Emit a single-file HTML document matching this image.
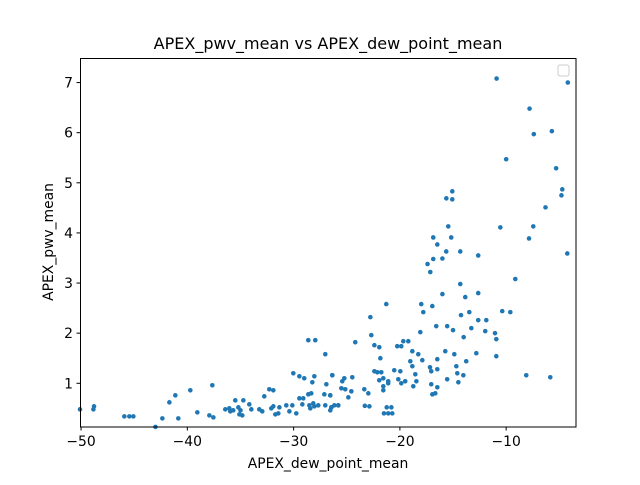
<!DOCTYPE html>
<html><head><meta charset="utf-8"><style>
body{margin:0;background:#fff;}
svg text{font-family:"DejaVu Sans","Liberation Sans",sans-serif;fill:#000;}
</style></head><body>
<svg id="chart" width="640" height="480" xmlns="http://www.w3.org/2000/svg">
<rect width="640" height="480" fill="#fff"/>
<text x="328" y="49" font-size="16" text-anchor="middle">APEX_pwv_mean vs APEX_dew_point_mean</text>
<g id="marks"></g>
<g id="axes"></g>
<rect x="80.5" y="58.5" width="495.5" height="368.5" fill="none" stroke="#000" stroke-width="1"/>
<rect x="558" y="65" width="11" height="11" rx="2" fill="#fff" stroke="#ccc" stroke-width="1"/>
<text x="328" y="468" font-size="13.9" text-anchor="middle">APEX_dew_point_mean</text>
<text transform="translate(53,242) rotate(-90)" font-size="13.9" text-anchor="middle">APEX_pwv_mean</text>
</svg>
<script>
const xVals=[-10.9,-4.2,-7.8,-7.4,-5.7,-10.0,-5.3,-15.07,-15.63,-15.07,-4.72,-4.8,-6.3,-15.45,-10.55,-7.45,-7.85,-16.86,-15.17,-16.48,-15.64,-14.32,-12.63,-4.25,-16.86,-16.0,-17.4,-17.14,-9.14,-14.32,-16.0,-12.63,-13.85,-21.28,-17.99,-16.95,-17.8,-13.47,-10.37,-9.61,-14.25,-22.78,-12.63,-11.87,-16.58,-15.55,-13.28,-15.0,-11.97,-18.08,-11.05,-14.0,-10.93,-22.69,-24.2,-22.4,-21.94,-20.25,-19.87,-19.68,-19.21,-21.84,-18.83,-18.27,-15.73,-14.88,-12.81,-10.93,-19.02,-17.89,-18.83,-16.48,-13.76,-17.17,-14.69,-17.05,-16.48,-18.55,-14.6,-14.03,-15.55,-14.5,-8.11,-5.85,-17.05,-16.48,-16.95,-16.67,-18.45,-18.74,-19.5,-19.87,-20.15,-19.96,-20.53,-21.1,-21.1,-21.56,-21.56,-21.94,-21.56,-21.75,-22.12,-22.4,-22.87,-21.1,-20.72,-20.8,-22.97,-23.35,-24.48,-24.57,-24.85,-25.14,-25.51,-25.23,-25.42,-26.36,-25.8,-26.45,-26.55,
-50.1,-48.84,-48.78,-45.93,-45.46,-45.08,-43.0,-42.35,-41.69,-41.13,-40.85,-39.72,-39.06,-37.93,-37.55,-37.65,-36.43,-36.05,-35.96,-35.68,-35.49,-35.2,-35.0,-35.1,-34.83,-34.73,-34.17,-33.98,-33.23,-32.95,-32.76,-32.29,-31.91,-32.1,-31.91,-31.72,-31.44,-31.34,-30.69,-30.4,-30.12,-30.03,-29.75,-29.46,-29.46,-29.09,-29.18,-29.0,-28.62,-27.96,-28.24,-28.05,-28.62,-28.34,-28.52,-28.43,-28.15,-28.05,-27.68,-27.02,-27.11,-26.55,-26.92,-26.36,-27.02,-26.55,-26.45,-25.8,-23.3,-21.24,-21.5,-26.17];
const yVals=[7.08,7.0,6.48,5.97,6.03,5.47,5.29,4.83,4.69,4.67,4.87,4.75,4.51,4.13,4.11,4.13,3.89,3.91,3.91,3.77,3.63,3.63,3.55,3.59,3.48,3.49,3.38,3.22,3.08,2.98,2.78,2.80,2.72,2.58,2.58,2.54,2.42,2.42,2.44,2.42,2.36,2.32,2.26,2.26,2.14,2.14,2.10,2.06,2.04,2.02,2.0,1.92,1.88,1.96,1.82,1.76,1.72,1.74,1.74,1.84,1.84,1.50,1.64,1.58,1.64,1.58,1.60,1.54,1.44,1.46,1.34,1.48,1.44,1.32,1.34,1.24,1.28,1.18,1.20,1.16,1.08,1.02,1.16,1.12,0.98,0.92,0.78,0.80,1.04,0.94,1.04,1.0,1.08,1.24,1.26,1.04,1.0,0.94,0.86,1.06,1.10,1.22,1.22,1.24,0.54,0.40,0.40,0.52,0.80,0.88,1.12,0.84,0.72,0.88,0.90,1.10,1.04,1.16,0.56,0.52,0.76,
0.48,0.48,0.54,0.34,0.34,0.34,0.13,0.30,0.62,0.76,0.30,0.86,0.42,0.36,0.32,0.96,0.48,0.50,0.44,0.46,0.66,0.52,0.46,0.38,0.36,0.66,0.58,0.48,0.48,0.44,0.74,0.88,0.86,0.50,0.54,0.38,0.40,0.52,0.56,0.44,0.56,1.20,0.40,1.14,0.70,0.70,0.58,1.10,1.86,1.86,1.02,1.14,0.78,0.80,0.56,0.50,0.60,0.54,0.56,1.58,0.78,0.76,0.98,1.16,0.56,0.46,0.52,0.56,0.55,0.52,0.40,0.56];
const xTicks=[-50,-40,-30,-20,-10];
const yTicks=[1,2,3,4,5,6,7];
const xMin=-50.1,xMax=-3.43,yMin=0.128,yMax=7.49;
const L=80,R=576,T=58,B=427;
function sx(v){return L+(v-xMin)/(xMax-xMin)*(R-L);}
function sy(v){return B-(v-yMin)/(yMax-yMin)*(B-T);}
const NS='http://www.w3.org/2000/svg';
const marks=document.getElementById('marks');
for(let i=0;i<xVals.length;i++){
  const c=document.createElementNS(NS,'circle');
  c.setAttribute('cx',sx(xVals[i]));c.setAttribute('cy',sy(yVals[i]));c.setAttribute('r',2.3);c.setAttribute('fill','#1f77b4');
  
  
  marks.appendChild(c);
}
const axes=document.getElementById('axes');
xTicks.forEach(t=>{
  const x=sx(t);
  const l=document.createElementNS(NS,'line');
  l.setAttribute('x1',x);l.setAttribute('x2',x);l.setAttribute('y1',427);l.setAttribute('y2',430.5);l.setAttribute('stroke','#000');
  
  
  axes.appendChild(l);
  const tx=document.createElementNS(NS,'text');
  tx.setAttribute('x',x);tx.setAttribute('y',446);tx.setAttribute('font-size','13.9');tx.setAttribute('text-anchor','middle');
  tx.textContent='\u2212'+Math.abs(t);
  
  
  axes.appendChild(tx);
});
yTicks.forEach(t=>{
  const y=sy(t);
  const l=document.createElementNS(NS,'line');
  l.setAttribute('x1',76.5);l.setAttribute('x2',80);l.setAttribute('y1',y);l.setAttribute('y2',y);l.setAttribute('stroke','#000');
  
  
  axes.appendChild(l);
  const tx=document.createElementNS(NS,'text');
  tx.setAttribute('x',73);tx.setAttribute('y',y+5);tx.setAttribute('font-size','13.9');tx.setAttribute('text-anchor','end');
  tx.textContent=t;
  
  
  axes.appendChild(tx);
});
</script>
</body></html>
